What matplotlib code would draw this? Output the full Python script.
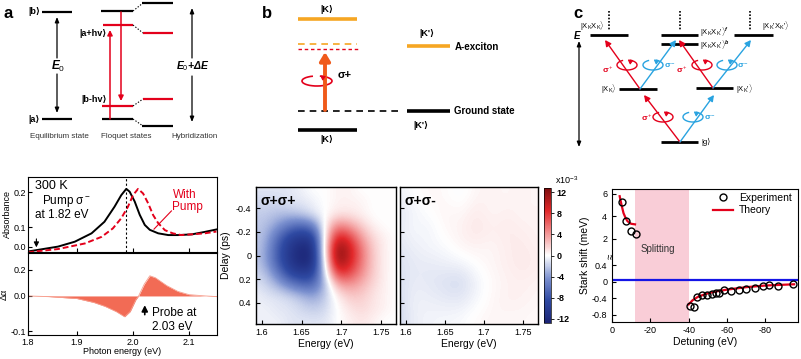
import numpy as np
import matplotlib
matplotlib.use('Agg')
import matplotlib.pyplot as plt
from matplotlib.patches import Arc
from matplotlib.colors import LinearSegmentedColormap

plt.rcParams['font.family'] = ['Liberation Sans', 'DejaVu Sans']
plt.rcParams['mathtext.fontset'] = 'custom'
plt.rcParams['mathtext.rm'] = 'Liberation Sans'
plt.rcParams['mathtext.it'] = 'Liberation Sans:italic:bold'
plt.rcParams['mathtext.bf'] = 'Liberation Sans:bold'

# ---------------- data ----------------
abs_E_black = [1.8125, 1.866, 1.896, 1.926, 1.949, 1.967, 1.979, 1.988, 1.994, 2.003, 2.012, 2.021, 2.030, 2.045, 2.063, 2.081, 2.105, 2.128, 2.149]
abs_black = [0.030, 0.044, 0.058, 0.082, 0.115, 0.158, 0.191, 0.209, 0.201, 0.173, 0.135, 0.106, 0.092, 0.082, 0.077, 0.077, 0.079, 0.086, 0.093]
abs_E_red = [1.8125, 1.866, 1.914, 1.944, 1.964, 1.979, 1.991, 2.0, 2.009, 2.018, 2.027, 2.036, 2.045, 2.057, 2.071, 2.086, 2.104, 2.128, 2.149]
abs_red = [0.028, 0.037, 0.053, 0.072, 0.096, 0.125, 0.158, 0.191, 0.209, 0.196, 0.168, 0.134, 0.111, 0.091, 0.082, 0.077, 0.079, 0.082, 0.087]
abs_peak_E = 1.988
abs_ticks = [0.2, 0.1, 0.043]
abs_tick_lab = ['0.2', '0.1', '0.0']
energy_ticks = [1.8125, 1.9, 2.0, 2.1]
energy_tick_lab = ['1.8', '1.9', '2.0', '2.1']

da_E = [1.8125, 1.85, 1.90, 1.93, 1.95, 1.97, 1.985, 1.995, 2.005, 2.01, 2.02, 2.03, 2.04, 2.06, 2.08, 2.10, 2.13, 2.15]
da_val = [0.0, -0.005, -0.02, -0.05, -0.08, -0.12, -0.16, -0.12, -0.03, 0.0, 0.09, 0.155, 0.14, 0.08, 0.035, 0.01, 0.0, -0.005]
da_tick_pos = [0.2, 0.0, -0.27]
da_tick_lab = ['0.2', '0.0', '-0.1']

map_energy = [1.59, 1.605, 1.62, 1.635, 1.65, 1.665, 1.68, 1.695, 1.71, 1.725, 1.74, 1.755, 1.77]
map_delay = [-0.55, -0.45, -0.35, -0.25, -0.15, -0.05, 0.05, 0.15, 0.25, 0.35, 0.45, 0.55]
map_pp = [
    [-1.0, -1.0, -1.0, -1.0, -0.5, 0.0, 0.0, 0.5, 0.5, 0.0, 0.0, 0.0, 0.0],
    [-1.5, -1.5, -1.5, -1.0, -1.0, -0.5, 0.0, 0.5, 0.5, 0.5, 0.0, 0.0, 0.0],
    [-2.0, -2.0, -2.5, -2.5, -2.0, -1.0, 0.0, 1.0, 1.0, 0.5, 0.0, 0.0, 0.0],
    [-2.0, -2.5, -4.0, -6.0, -7.0, -5.5, 0.5, 5.0, 4.0, 2.0, 0.5, 0.0, 0.0],
    [-2.0, -3.0, -6.5, -9.5, -10.5, -10.0, 1.0, 9.5, 8.0, 4.0, 1.5, 0.5, 0.0],
    [-2.0, -3.5, -7.5, -10.5, -12.5, -11.5, 1.5, 12.5, 10.0, 5.5, 2.0, 0.5, 0.0],
    [-2.0, -3.5, -7.5, -10.5, -12.5, -11.5, 0.5, 12.0, 9.5, 5.5, 2.0, 0.5, 0.0],
    [-1.5, -2.5, -5.5, -9.0, -10.0, -9.5, -1.0, 8.0, 7.5, 4.5, 2.0, 0.5, 0.0],
    [-1.0, -1.5, -3.0, -5.0, -6.5, -6.5, -2.5, 3.0, 4.0, 3.0, 1.5, 0.5, 0.0],
    [-0.5, -1.0, -1.0, -1.5, -2.5, -3.5, -2.0, 0.5, 2.0, 2.0, 1.0, 0.5, 0.0],
    [-0.5, -0.5, -1.0, -1.0, -1.5, -2.0, -1.5, 0.0, 1.0, 1.5, 1.0, 0.5, 0.0],
    [-0.5, -0.5, -0.5, -1.0, -1.0, -1.0, -1.0, 0.0, 0.5, 1.0, 0.5, 0.0, 0.0],
]
map2_energy = [1.59, 1.61, 1.63, 1.65, 1.67, 1.69, 1.71, 1.73, 1.75, 1.77]
map2_delay = [-0.525, -0.375, -0.225, -0.075, 0.075, 0.225, 0.375, 0.525]
map_pm = [
    [-0.5, 0.0, 0.3, 0.2, -0.3, 0.4, 0.5, 0.3, 0.6, 0.2],
    [-1.0, -0.4, 0.0, 0.4, 0.2, 0.8, 0.3, 0.6, 0.3, 0.5],
    [-0.8, -0.2, -0.5, 0.3, 0.5, 1.0, 0.6, 0.8, 0.6, 0.4],
    [-1.0, -0.6, -0.3, -0.2, 0.4, 0.5, 0.3, 0.7, 0.8, 0.5],
    [-1.2, -0.8, -0.8, -0.6, -0.5, 0.0, 0.4, 0.6, 0.9, 0.6],
    [-1.3, -0.7, -0.9, -1.2, -1.5, -0.5, 0.2, 0.5, 0.6, 0.4],
    [-1.4, -0.5, -0.6, -0.8, -0.9, -0.3, 0.3, 0.6, 0.5, 0.3],
    [-1.5, -0.6, -0.4, -0.3, -0.2, 0.2, 0.4, 0.3, 0.3, 0.2],
]
cbar_ticks = [12, 8, 4, 0, -4, -8, -12]

exp_det_hi = [-5, -7.5, -10, -12.5]
exp_shift_hi = [5.3, 3.6, 2.7, 2.4]
th_det_hi = [-4, -5, -6, -7, -8, -9, -10, -12]
th_shift_hi = [5.8, 5.0, 4.3, 3.9, 3.6, 3.45, 3.35, 3.3]
exp_det_lo = [-40.5, -43, -44.5, -47, -49.5, -52, -54, -56, -58.5, -62, -66, -70, -74.5, -78.5, -82, -86.5, -94.5]
exp_shift_lo = [-0.58, -0.62, -0.36, -0.33, -0.31, -0.29, -0.27, -0.28, -0.21, -0.22, -0.21, -0.17, -0.14, -0.11, -0.08, -0.1, -0.06]
th_det_lo = [-40, -42, -45, -50, -55, -60, -65, -70, -80, -90, -95]
th_shift_lo = [-0.55, -0.45, -0.36, -0.28, -0.23, -0.19, -0.16, -0.13, -0.09, -0.07, -0.06]
split_range = [-12, -40]
ref_level = 0.04

W, H = 801, 359
fig = plt.figure(figsize=(W / 100, H / 100), dpi=100)


def box(x0, y0, x1, y1):
    return [x0 / W, 1 - y1 / H, (x1 - x0) / W, (y1 - y0) / H]


RED = '#e3001b'
ORANGE = '#f6a623'
BLUE = '#29a3e0'

# ---------------- schematic overlay ----------------
ov = fig.add_axes([0, 0, 1, 1])
ov.set_xlim(0, W)
ov.set_ylim(H, 0)
ov.axis('off')


def hl(x0, x1, y, color='k', lw=1.6, ls='-'):
    ov.plot([x0, x1], [y, y], color=color, lw=lw, ls=ls, solid_capstyle='butt')


def arrow(x0, y0, x1, y1, color='k', lw=1.0, hw=0.18, hlen=0.35):
    ov.annotate('', xy=(x1, y1), xytext=(x0, y0),
                arrowprops=dict(arrowstyle=f'-|>,head_width={hw},head_length={hlen}',
                                color=color, lw=lw, shrinkA=0, shrinkB=0))


def circ(cx, cy, w, h, color, lw=1.1):
    ov.add_patch(Arc((cx, cy), w, h, theta1=-60, theta2=230, color=color, lw=lw))
    ex = cx + w / 2 * np.cos(np.radians(-60))
    ey = cy + h / 2 * np.sin(np.radians(-60))
    ov.annotate('', xy=(ex + 1.5, ey - 0.6), xytext=(ex - 0.5, ey + 0.3),
                arrowprops=dict(arrowstyle='-|>,head_width=0.15,head_length=0.25',
                                color=color, lw=0.8, shrinkA=0, shrinkB=0))


# panel a schematic
ov.text(4, 14, 'a', fontsize=12, fontweight='bold', va='center')
hl(42, 72, 12); hl(42, 72, 119)
ov.text(40, 12, '|b⟩', fontsize=6.5, fontweight='bold', ha='right', va='center')
ov.text(40, 119, '|a⟩', fontsize=6.5, fontweight='bold', ha='right', va='center')
arrow(57, 58, 57, 17, lw=0.9, hw=0.12, hlen=0.3)
arrow(57, 74, 57, 113, lw=0.9, hw=0.12, hlen=0.3)
ov.text(58, 66, r'$E_\mathit{0}$', fontsize=8.5, ha='center', va='center')
hl(101, 133, 11); hl(102, 133, 119)
hl(103, 133, 25, RED); hl(102, 133, 106, RED)
arrow(110, 119, 110, 30, RED, lw=1.1, hw=0.15, hlen=0.3)
arrow(121, 12, 121, 101, RED, lw=1.1, hw=0.15, hlen=0.3)
ov.text(107, 33, '|a+hv⟩', fontsize=6.5, fontweight='bold', ha='right', va='center')
ov.text(107, 99, '|b-hv⟩', fontsize=6.5, fontweight='bold', ha='right', va='center')
for (ya, yb) in [(11, 3), (25, 33), (106, 99), (119, 126)]:
    ov.plot([133, 143], [ya, yb], color='k', lw=0.8, ls=(0, (1.2, 1.5)))
hl(142, 173, 3); hl(143, 173, 33, RED); hl(143, 173, 99, RED); hl(142, 173, 126)
arrow(192, 58, 192, 8, lw=0.9, hw=0.12, hlen=0.3)
arrow(192, 76, 192, 122, lw=0.9, hw=0.12, hlen=0.3)
ov.text(193, 66, r'$E_\mathit{0}$+Δ$E$', fontsize=7.5, ha='center', va='center', style='italic', fontweight='bold')
ov.text(59, 137, 'Equilibrium state', fontsize=5.8, ha='center', va='center', color='#333333')
ov.text(126, 137, 'Floquet states', fontsize=5.8, ha='center', va='center', color='#333333')
ov.text(194, 137, 'Hybridization', fontsize=5.8, ha='center', va='center', color='#333333')

# panel b schematic
ov.text(262, 14, 'b', fontsize=12, fontweight='bold', va='center')
hl(298, 357, 19, ORANGE, lw=2.6)
ov.text(327, 9, '|K⟩', fontsize=6.5, fontweight='bold', ha='center', va='center')
hl(298, 357, 44, ORANGE, lw=1.2, ls=(0, (4, 3)))
hl(298, 360, 49, RED, lw=1.0, ls=(0, (2.5, 2)))
hl(407, 450, 46, ORANGE, lw=2.6)
ov.text(427, 34, "|K'⟩", fontsize=6.5, fontweight='bold', ha='center', va='center')
ov.text(455, 47, 'A-exciton', fontsize=7, fontweight='bold', ha='left', va='center')
arrow(325, 110, 325, 52, '#f05a1a', lw=2.8, hw=0.3, hlen=0.5)
circ(317, 81, 30, 10, RED, lw=1.2)
ov.text(345, 75, 'σ+', fontsize=8, fontweight='bold', ha='center', va='center')
hl(298, 400, 111, 'k', lw=1.2, ls=(0, (4, 3)))
hl(407, 450, 111, 'k', lw=2.6)
ov.text(454, 111, 'Ground state', fontsize=7, fontweight='bold', ha='left', va='center')
ov.text(421, 125, "|K'⟩", fontsize=6.5, fontweight='bold', ha='center', va='center')
hl(298, 357, 130, 'k', lw=2.6)
ov.text(327, 140, '|K⟩', fontsize=6.5, fontweight='bold', ha='center', va='center')

# panel c schematic
ov.text(573, 14, 'c', fontsize=12, fontweight='bold', va='center')
for (x0, x1, y) in [(590, 628, 35), (661, 698, 35), (734, 773, 35), (661, 698, 44),
                    (619, 657, 89), (696, 733, 88), (661, 698, 142)]:
    hl(x0, x1, y, 'k', lw=2.0)
for x in [609, 680, 750]:
    ov.plot([x, x], [11, 31], color='k', lw=1.2, ls=(0, (1, 1)))
ov.annotate('', xy=(579, 41), xytext=(579, 147),
            arrowprops=dict(arrowstyle='<|-|>,head_width=0.12,head_length=0.3', color='k', lw=0.9,
                            shrinkA=0, shrinkB=0))
ov.text(577, 35, r'$E$', fontsize=7, ha='center', va='center')
arrow(680, 142, 644, 95, RED, lw=1.0)
arrow(680, 142, 714, 95, BLUE, lw=1.0)
arrow(640, 89, 605, 40, RED, lw=1.0)
arrow(640, 89, 676, 40, BLUE, lw=1.0)
arrow(713, 88, 679, 40, RED, lw=1.0)
arrow(713, 88, 751, 40, BLUE, lw=1.0)
for (cx, cy, col) in [(627, 65, RED), (653, 65, BLUE), (702, 65, RED), (727, 65, BLUE),
                      (663, 117, RED), (693, 117, BLUE)]:
    circ(cx, cy, 20, 10, col, lw=1.0)
for (x, y, s, col) in [(608, 70, 'σ$^+$', RED), (670, 66, 'σ$^-$', BLUE), (682, 70, 'σ$^+$', RED),
                       (743, 66, 'σ$^-$', BLUE), (647, 118, 'σ$^+$', RED), (710, 118, 'σ$^-$', BLUE)]:
    ov.text(x, y, s, fontsize=6, color=col, fontweight='bold', ha='center', va='center')
ov.text(605, 26, r'|X$_\mathrm{K}$X$_\mathrm{K}\rangle$', fontsize=5.5, ha='right', va='center')
ov.text(700, 32, r"|X$_\mathrm{K}$X$_\mathrm{K}$'$\rangle^f$", fontsize=5.5, ha='left', va='center')
ov.text(700, 45, r"|X$_\mathrm{K}$X$_\mathrm{K}$'$\rangle^b$", fontsize=5.5, ha='left', va='center')
ov.text(762, 26, r"|X$_\mathrm{K}$'X$_\mathrm{K}$'$\rangle$", fontsize=5.5, ha='left', va='center')
ov.text(617, 89, r'|X$_\mathrm{K}\rangle$', fontsize=5.5, ha='right', va='center')
ov.text(736, 89, r"|X$_\mathrm{K}$'$\rangle$", fontsize=5.5, ha='left', va='center')
ov.text(701, 142, '|g⟩', fontsize=5.5, ha='left', va='center')

TK = dict(labelsize=6.5, length=3, width=0.8)

# ---------------- panel a plots ----------------
XL = (1.8125, 2.15)
axA = fig.add_axes(box(28, 177, 217, 252))
axA.plot(abs_E_black, abs_black, color='k', lw=1.4)
axA.plot(abs_E_red, abs_red, color=RED, lw=1.4, ls=(0, (3, 1.5)))
axA.axvline(abs_peak_E, color='k', lw=0.8, ls=(0, (2, 2)))
axA.set_xlim(*XL)
axA.set_ylim(0.0286, 0.243)
axA.set_yticks(abs_ticks)
axA.set_yticklabels(abs_tick_lab)
axA.set_xticks(energy_ticks[1:])
axA.set_xticklabels([])
axA.tick_params(direction='in', pad=1.5, **TK)
axA.set_ylabel('Absorbance', fontsize=6.5, labelpad=1)
axA.text(0.037, 0.877, '300 K', transform=axA.transAxes, fontsize=9, va='center')
axA.text(0.072, 0.68, 'Pump σ$^-$', transform=axA.transAxes, fontsize=8.5, va='center')
axA.text(0.037, 0.49, 'at 1.82 eV', transform=axA.transAxes, fontsize=8.5, va='center')
axA.text(0.767, 0.76, 'With', transform=axA.transAxes, fontsize=8.5, va='center', color=RED)
axA.text(0.762, 0.6, 'Pump', transform=axA.transAxes, fontsize=8.5, va='center', color=RED)
axA.plot([2.0686, 2.0375], [0.146, 0.094], color=RED, lw=0.8)
axA.annotate('', xy=(1.8275, 0.042), xytext=(1.8275, 0.066),
             arrowprops=dict(arrowstyle='-|>,head_width=0.15,head_length=0.3', color='k', lw=0.8,
                             shrinkA=0, shrinkB=0))

axB = fig.add_axes(box(28, 253, 217, 335))
axB.fill_between(da_E, da_val, 0, color='#f26b55', lw=0)
axB.plot(da_E, da_val, color='#f7a090', lw=0.6)
axB.set_xlim(*XL)
axB.set_ylim(-0.3, 0.33)
axB.set_yticks(da_tick_pos)
axB.set_yticklabels(da_tick_lab)
axB.set_xticks(energy_ticks)
axB.set_xticklabels(energy_tick_lab)
axB.tick_params(direction='in', pad=1.5, **TK)
axB.tick_params(axis='x', pad=2)
axB.set_ylabel('Δα', fontsize=6.5, labelpad=1)
axB.set_xlabel('Photon energy (eV)', fontsize=6.5, labelpad=0)
axB.annotate('', xy=(2.021, -0.05), xytext=(2.021, -0.165),
             arrowprops=dict(arrowstyle='-|>,head_width=0.18,head_length=0.35', color='k', lw=1.2))
axB.text(0.655, 0.27, 'Probe at', transform=axB.transAxes, fontsize=8.5, va='center')
axB.text(0.655, 0.1, '2.03 eV', transform=axB.transAxes, fontsize=8.5, va='center')

# ---------------- panel b maps ----------------
cmap = LinearSegmentedColormap.from_list('bwr_custom', [
    (0.0, '#1b2475'), (0.17, '#2f4aa3'), (0.33, '#7b90cf'), (0.5, '#ffffff'),
    (0.67, '#f29090'), (0.83, '#e2282a'), (1.0, '#7d0e0e')])
VLIM = 12.8


def cell_extent(xs, ys):
    dx = xs[1] - xs[0]
    dy = ys[1] - ys[0]
    return [xs[0] - dx / 2, xs[-1] + dx / 2, ys[-1] + dy / 2, ys[0] - dy / 2]


axM1 = fig.add_axes(box(256, 187, 396, 324))
im = axM1.imshow(np.array(map_pp), extent=cell_extent(map_energy, map_delay), aspect='auto',
                 interpolation='bicubic', cmap=cmap, vmin=-VLIM, vmax=VLIM)
axM2 = fig.add_axes(box(400, 187, 538, 324))
axM2.imshow(np.array(map_pm), extent=cell_extent(map2_energy, map2_delay), aspect='auto',
            interpolation='bicubic', cmap=cmap, vmin=-VLIM, vmax=VLIM)
for ax, lab in [(axM1, 'σ+σ+'), (axM2, 'σ+σ-')]:
    ax.set_xlim(1.5925, 1.769)
    ax.set_ylim(0.58, -0.58)
    ax.set_xticks([1.6, 1.65, 1.7, 1.75])
    ax.set_xticklabels(['1.6', '1.65', '1.7', '1.75'])
    ax.set_yticks([-0.4, -0.2, 0, 0.2, 0.4])
    ax.tick_params(direction='in', **TK)
    ax.tick_params(axis='x', pad=3)
    ax.set_xlabel('Energy (eV)', fontsize=7.5, labelpad=1)
    ax.text(0.03, 0.9, lab, transform=ax.transAxes, fontsize=10, fontweight='bold', va='center')
    for s in ax.spines.values():
        s.set_linewidth(1.0)
axM1.set_yticklabels(['-0.4', '-0.2', '0', '0.2', '0.4'])
axM1.set_ylabel('Delay (ps)', fontsize=7.5, labelpad=3)
axM2.set_yticklabels([])

axC = fig.add_axes(box(544, 188, 551, 323))
cb = fig.colorbar(im, cax=axC)
cb.set_ticks(cbar_ticks)
cb.set_ticklabels([str(t) for t in cbar_ticks])
axC.tick_params(labelsize=6.5, length=2, width=0.6, pad=2)
for t in axC.get_yticklabels():
    t.set_fontweight('bold')
cb.outline.set_linewidth(0.5)
fig.text(555 / W, 1 - 180 / H, r'x10$^{-3}$', fontsize=6.5, ha='left', va='center')

# ---------------- panel c plot ----------------
axT = fig.add_axes(box(612, 189, 798, 256))
axL = fig.add_axes(box(612, 256, 798, 322))
for ax in (axT, axL):
    ax.axvspan(split_range[0], split_range[1], color='#f9cdd7', lw=0)
    ax.set_xlim(0, -97)
    ax.tick_params(direction='in', **TK)
axT.plot(th_det_hi, th_shift_hi, color=RED, lw=1.6, label='Theory')
axT.plot(exp_det_hi, exp_shift_hi, 'o', mfc='none', mec='k', ms=5, mew=1.0, label='Experiment')
axL.axhline(ref_level, color='#1515e6', lw=1.6)
axL.plot(th_det_lo, th_shift_lo, color=RED, lw=1.6)
axL.plot(exp_det_lo, exp_shift_lo, 'o', mfc='none', mec='k', ms=5, mew=1.0)
axT.set_ylim(0.49, 6.44)
axL.set_ylim(-0.98, 0.63)
axT.set_yticks([2, 4, 6])
axT.set_xticks([0, -20, -40, -60, -80])
axT.set_xticklabels([])
axL.set_yticks([-0.8, -0.4, 0, 0.4])
axL.set_yticklabels(['-0.8', '-0.4', '0', '0.4'])
axL.set_xticks([0, -20, -40, -60, -80])
axL.set_xticklabels(['0', '-20', '-40', '-60', '-80'])
axL.tick_params(axis='x', pad=3)
axT.spines['bottom'].set_visible(False)
axL.spines['top'].set_visible(False)
axT.tick_params(axis='x', bottom=False)
h, l = axT.get_legend_handles_labels()
axT.legend([h[1], h[0]], [l[1], l[0]], loc='upper right', bbox_to_anchor=(1.0, 1.04), frameon=False,
           fontsize=7.5, handlelength=1.9, handletextpad=0.6, labelspacing=0.25, borderaxespad=0.2)
axT.text(-24, 1.1, 'Splitting', fontsize=7, ha='center', va='center', color='#333333')
axL.set_xlabel('Detuning (eV)', fontsize=7.5, labelpad=1)
fig.text(585 / W, 1 - 255 / H, 'Stark shift (meV)', fontsize=7.5, rotation=90, ha='center', va='center')
fig.text(611 / W, 1 - 256 / H, '≈', fontsize=7, rotation=90, ha='center', va='center')

fig.savefig('out.png', dpi=100)
